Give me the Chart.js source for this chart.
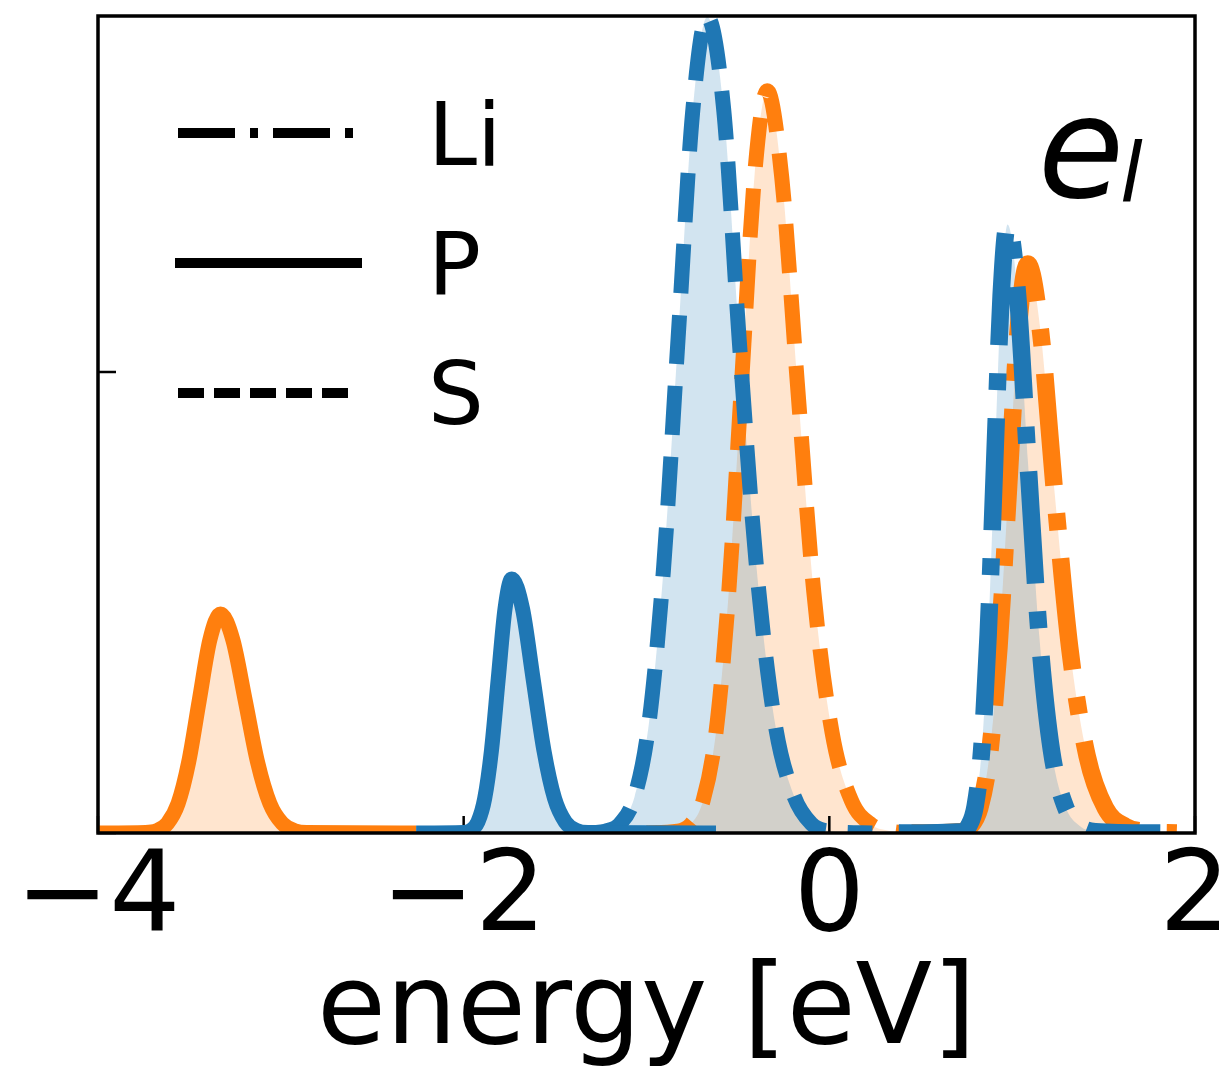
<!DOCTYPE html>
<html>
<head>
<meta charset="utf-8">
<script src="https://cdn.jsdelivr.net/npm/chart.js@4.4.1/dist/chart.umd.min.js"></script>
<style>
  html, body { margin: 0; padding: 0; background: #fff; }
  #wrap { width: 1219px; height: 1073px; }
</style>
</head>
<body>
<div id="wrap"><canvas id="dos" width="1219" height="1073"></canvas></div>
<script>
// ===== DATA =====
const xTicks = [-4, -2, 0, 2];
const yTicks = [0, 1];
const legendLabels = ["Li", "P", "S"];

// P (solid)
const pOrangeE = [-4.0, -3.74, -3.678, -3.62, -3.562, -3.504, -3.446, -3.388, -3.33, -3.2625, -3.195, -3.1275, -3.06, -2.9925, -2.925, -2.86, -2.26];
const pOrangeD = [0, 0.001, 0.005, 0.021, 0.064, 0.154, 0.288, 0.419, 0.475, 0.419, 0.288, 0.154, 0.064, 0.021, 0.005, 0.001, 0];
const pBlueE = [-2.26, -2.0, -1.959, -1.922, -1.885, -1.848, -1.811, -1.774, -1.737, -1.678, -1.62, -1.561, -1.503, -1.444, -1.386, -1.32, -0.62];
const pBlueD = [0, 0.001, 0.006, 0.024, 0.075, 0.179, 0.334, 0.486, 0.551, 0.486, 0.334, 0.179, 0.075, 0.024, 0.006, 0.001, 0];

// S (dashed)
const sBlueE = [-1.3, -1.2245, -1.145, -1.0655, -0.986, -0.9065, -0.827, -0.748, -0.668, -0.578, -0.493, -0.398, -0.298, -0.198, -0.098, 0.002, 0.235];
const sBlueD = [0, 0.004, 0.02, 0.078, 0.24, 0.575, 1.074, 1.562, 1.77, 1.57, 1.07, 0.575, 0.24, 0.085, 0.02, 0.004, 0];
const sOrangeE = [-1.0, -0.83, -0.76, -0.69, -0.62, -0.55, -0.48, -0.41, -0.34, -0.26, -0.175, -0.085, 0.015, 0.12, 0.23, 0.34, 0.42];
const sOrangeD = [0, 0.004, 0.018, 0.071, 0.218, 0.523, 0.976, 1.421, 1.61, 1.421, 0.976, 0.523, 0.218, 0.071, 0.018, 0.004, 0];

// Li (dash-dot)
const liBlueE = [0.38, 0.7265, 0.762, 0.7975, 0.833, 0.8685, 0.904, 0.9395, 0.975, 1.03, 1.087, 1.148, 1.215, 1.29, 1.37, 1.455, 1.81];
const liBlueD = [0, 0.003, 0.015, 0.058, 0.179, 0.429, 0.801, 1.165, 1.32, 1.165, 0.801, 0.429, 0.179, 0.058, 0.015, 0.003, 0];
const liOrangeE = [0.45, 0.7175, 0.77, 0.8225, 0.875, 0.9275, 0.98, 1.0325, 1.085, 1.155, 1.23, 1.315, 1.41, 1.51, 1.62, 1.73, 1.9];
const liOrangeD = [0, 0.003, 0.014, 0.054, 0.167, 0.401, 0.748, 1.089, 1.234, 1.089, 0.748, 0.401, 0.167, 0.054, 0.014, 0.003, 0];

// ===== STYLE =====
const BLUE = "#1f77b4";
const ORANGE = "#ff7f0e";
const BLUE_FILL = "rgba(31,119,180,0.2)";
const ORANGE_FILL = "rgba(255,127,14,0.2)";
const FONT = "'DejaVu Sans', sans-serif";
const DASH = { P: [], S: [49, 22], Li: [112, 28, 17, 28] };
const WIDTH = { P: 15, S: 15, Li: 17.5 };

function pts(xs, ys) {
  return xs.map((x, i) => ({ x: x, y: ys[i] }));
}

function series(kind, xs, ys, color, fillColor, order) {
  return {
    label: kind,
    data: pts(xs, ys),
    borderColor: color,
    backgroundColor: fillColor,
    borderWidth: WIDTH[kind],
    borderDash: DASH[kind],
    borderCapStyle: "butt",
    borderJoinStyle: "round",
    cubicInterpolationMode: "monotone",
    pointRadius: 0,
    fill: "origin",
    clip: 0,
    order: order,
  };
}

// ticks pointing inwards, frame, legend and the e_l tag
const decor = {
  id: "decor",
  beforeDatasetsDraw(chart) {
    const ctx = chart.ctx;
    const a = chart.chartArea;
    const xs = chart.scales.x, ys = chart.scales.y;
    ctx.save();
    ctx.strokeStyle = "#000";
    ctx.lineWidth = 2.5;
    ctx.beginPath();
    xTicks.forEach((v) => {
      const px = xs.getPixelForValue(v);
      ctx.moveTo(px, a.bottom);
      ctx.lineTo(px, a.bottom - 17);
    });
    yTicks.forEach((v) => {
      const py = ys.getPixelForValue(v);
      ctx.moveTo(a.left, py);
      ctx.lineTo(a.left + 18, py);
    });
    ctx.stroke();
    ctx.restore();
  },
  afterDatasetsDraw(chart) {
    const ctx = chart.ctx;
    const a = chart.chartArea;
    ctx.save();
    // frame
    ctx.strokeStyle = "#000";
    ctx.lineWidth = 3.5;
    ctx.strokeRect(a.left, a.top, a.right - a.left, a.bottom - a.top);

    // legend
    const rows = [
      { dash: [57, 15, 8, 15], y: 133, x0: 178, x1: 360 },
      { dash: [], y: 263, x0: 175, x1: 362 },
      { dash: [26, 10], y: 393, x0: 178, x1: 350 },
    ];
    const baselines = [165, 295, 424];
    ctx.lineWidth = 10;
    ctx.lineCap = "butt";
    rows.forEach((r, i) => {
      ctx.setLineDash(r.dash);
      ctx.beginPath();
      ctx.moveTo(r.x0, r.y);
      ctx.lineTo(r.x1, r.y);
      ctx.stroke();
      ctx.setLineDash([]);
      ctx.fillStyle = "#000";
      ctx.font = "88px " + FONT;
      ctx.textBaseline = "alphabetic";
      ctx.textAlign = "left";
      ctx.fillText(legendLabels[i], 428, baselines[i]);
    });

    // e_l tag
    ctx.font = "italic 140px " + FONT;
    ctx.fillText("e", 1038, 197);
    ctx.font = "italic 82px " + FONT;
    ctx.fillText("l", 1120, 201);
    ctx.restore();
  },
};

new Chart(document.getElementById("dos"), {
  type: "line",
  data: {
    datasets: [
      series("P", pOrangeE, pOrangeD, ORANGE, ORANGE_FILL, 2),
      series("P", pBlueE, pBlueD, BLUE, BLUE_FILL, 1),
      series("S", sOrangeE, sOrangeD, ORANGE, ORANGE_FILL, 2),
      series("S", sBlueE, sBlueD, BLUE, BLUE_FILL, 1),
      series("Li", liOrangeE, liOrangeD, ORANGE, ORANGE_FILL, 2),
      series("Li", liBlueE, liBlueD, BLUE, BLUE_FILL, 1),
    ],
  },
  options: {
    responsive: false,
    animation: false,
    devicePixelRatio: 1,
    layout: { padding: { top: 16, right: 24, left: 0, bottom: 0 } },
    plugins: {
      legend: { display: false },
      tooltip: { enabled: false },
      filler: { drawTime: "beforeDatasetsDraw" },
    },
    scales: {
      x: {
        type: "linear",
        min: -4,
        max: 2,
        afterBuildTicks(s) {
          s.ticks = xTicks.map((v) => ({ value: v }));
        },
        afterFit(s) {
          s.height = 240;
          s.paddingLeft = 0;
          s.paddingRight = 0;
        },
        grid: { display: false, drawTicks: false },
        border: { display: false },
        ticks: {
          autoSkip: false,
          maxRotation: 0,
          color: "#000",
          padding: 12,
          font: { family: FONT, size: 112, lineHeight: 1 },
          callback: (v) => (v < 0 ? "\u2212" + Math.abs(v) : String(v)),
        },
        title: {
          display: true,
          text: "energy [eV]",
          color: "#000",
          font: { family: FONT, size: 112, lineHeight: 1 },
          padding: { top: 0, bottom: 3 },
        },
      },
      y: {
        min: 0,
        max: 1.772,
        afterBuildTicks(s) {
          s.ticks = yTicks.map((v) => ({ value: v }));
        },
        afterFit(s) {
          s.width = 98;
          s.paddingTop = 0;
          s.paddingBottom = 0;
        },
        grid: { display: false, drawTicks: false },
        border: { display: false },
        ticks: { display: false },
      },
    },
  },
  plugins: [decor],
});
</script>
</body>
</html>
